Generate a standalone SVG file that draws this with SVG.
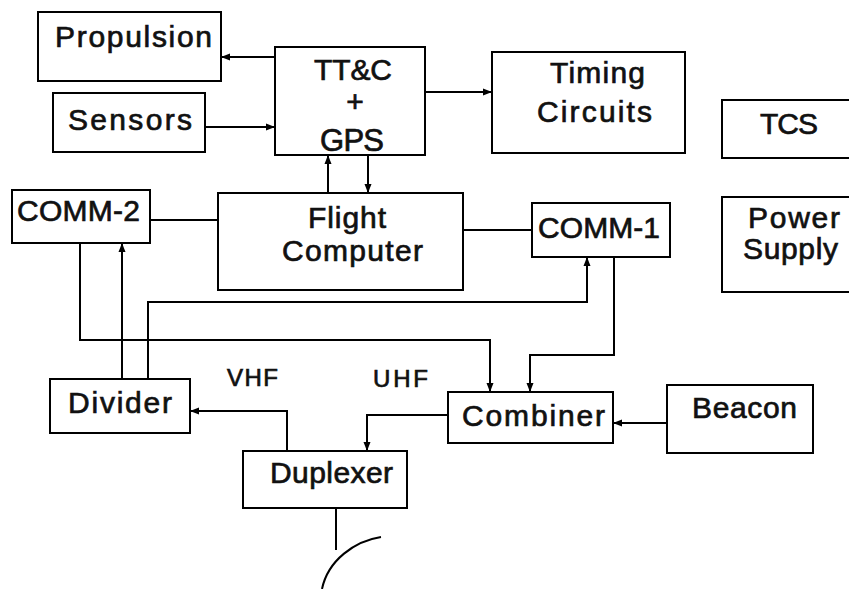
<svg xmlns="http://www.w3.org/2000/svg" width="849" height="589" viewBox="0 0 849 589">
<defs>
<marker id="ah" markerWidth="10" markerHeight="8" refX="9" refY="4" orient="auto" markerUnits="userSpaceOnUse">
<path d="M0,0.5 L9,4 L0,7.5 Z" fill="#000"/>
</marker>
<style>
.box{fill:#fff;stroke:#000;stroke-width:2}
.lbl{font-family:"Liberation Sans",Arial,sans-serif;font-size:30px;fill:#111;stroke:#111;stroke-width:0.7}
.sm{font-size:24px}
.c{fill:none;stroke:#000;stroke-width:2}
.a{marker-end:url(#ah)}
</style>
</defs>
<rect width="849" height="589" fill="#fff"/>
<g id="connectors">
<path class="c a" d="M275,57 L221,57"/>
<path class="c a" d="M205,127 L275,127"/>
<path class="c a" d="M425,92 L492,92"/>
<path class="c a" d="M328,193 L328,155"/>
<path class="c a" d="M368,155 L368,193"/>
<path class="c" d="M150,220 L218,220"/>
<path class="c" d="M463,230 L532,230"/>
<path class="c a" d="M80,243 L80,340 L490,340 L490,392"/>
<path class="c a" d="M122,379 L122,243"/>
<path class="c a" d="M148,379 L148,302 L587,302 L587,257"/>
<path class="c a" d="M614,257 L614,355 L530,355 L530,392"/>
<path class="c a" d="M667,423 L613,423"/>
<path class="c a" d="M448,415 L367,415 L367,451"/>
<path class="c a" d="M287,451 L287,411 L190,411"/>
<path class="c" d="M336,508 L336,550"/>
<path class="c" d="M381,537 C355,541 328,560 322,589"/>
</g>
<g id="propulsion"><rect class="box" x="38" y="12" width="183" height="69"/><text class="lbl" x="55" y="47" textLength="157" lengthAdjust="spacing">Propulsion</text></g>
<g id="ttc"><rect class="box" x="275" y="47" width="150" height="108"/><text class="lbl" x="314" y="80" textLength="78" lengthAdjust="spacing">TT&amp;C</text><text class="lbl" x="355" y="112" text-anchor="middle">+</text><text class="lbl" x="320" y="151" style="font-size:31px" textLength="64" lengthAdjust="spacing">GPS</text></g>
<g id="sensors"><rect class="box" x="53" y="93" width="152" height="59"/><text class="lbl" x="68" y="130" textLength="124" lengthAdjust="spacing">Sensors</text></g>
<g id="timing"><rect class="box" x="492" y="52" width="193" height="101"/><text class="lbl" x="550" y="83" textLength="95" lengthAdjust="spacing">Timing</text><text class="lbl" x="537" y="122" textLength="115" lengthAdjust="spacing">Circuits</text></g>
<g id="tcs"><rect class="box" x="722" y="100" width="140" height="58"/><text class="lbl" x="760" y="134" textLength="58" lengthAdjust="spacing">TCS</text></g>
<g id="power"><rect class="box" x="722" y="197" width="140" height="95"/><text class="lbl" x="748" y="228" textLength="92" lengthAdjust="spacing">Power</text><text class="lbl" x="743" y="259" textLength="95" lengthAdjust="spacing">Supply</text></g>
<g id="comm2"><rect class="box" x="12" y="190" width="138" height="53"/><text class="lbl" x="17" y="221" textLength="123" lengthAdjust="spacing">COMM-2</text></g>
<g id="flight"><rect class="box" x="218" y="193" width="245" height="97"/><text class="lbl" x="308" y="228" textLength="78" lengthAdjust="spacing">Flight</text><text class="lbl" x="282" y="261" textLength="141" lengthAdjust="spacing">Computer</text></g>
<g id="comm1"><rect class="box" x="532" y="203" width="138" height="54"/><text class="lbl" x="538" y="238" textLength="122" lengthAdjust="spacing">COMM-1</text></g>
<g id="divider"><rect class="box" x="50" y="379" width="140" height="54"/><text class="lbl" x="68" y="413" textLength="104" lengthAdjust="spacing">Divider</text></g>
<g id="combiner"><rect class="box" x="448" y="392" width="165" height="51"/><text class="lbl" x="462" y="426" textLength="143" lengthAdjust="spacing">Combiner</text></g>
<g id="beacon"><rect class="box" x="667" y="385" width="146" height="68"/><text class="lbl" x="692" y="418" textLength="105" lengthAdjust="spacing">Beacon</text></g>
<g id="duplexer"><rect class="box" x="243" y="451" width="164" height="57"/><text class="lbl" x="270" y="483" textLength="123" lengthAdjust="spacing">Duplexer</text></g>
<g id="labels"><text class="lbl sm" x="227" y="386" textLength="51" lengthAdjust="spacing">VHF</text><text class="lbl sm" x="373" y="387" textLength="55" lengthAdjust="spacing">UHF</text></g>
</svg>
